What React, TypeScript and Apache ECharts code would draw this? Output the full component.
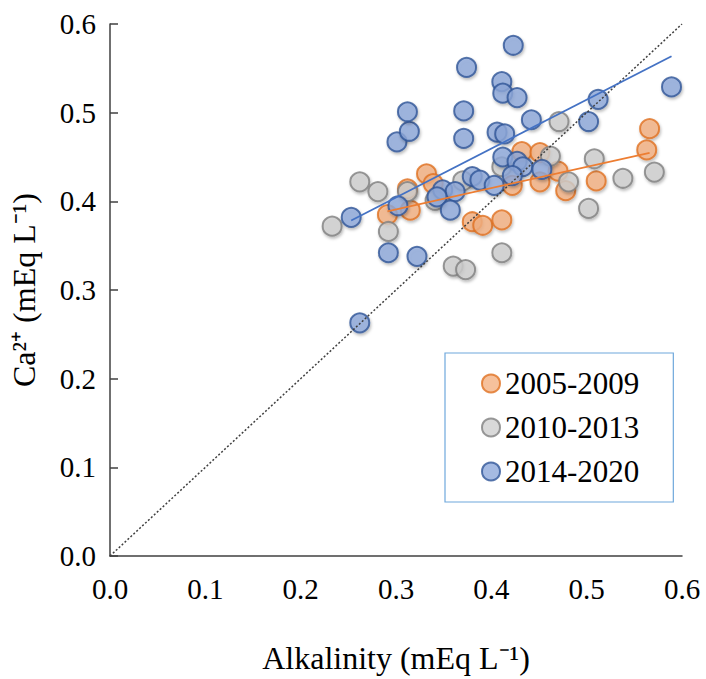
import React, { useEffect, useRef } from "react";
import * as echarts from "echarts";

// 2005-2009 (orange): [alkalinity, Ca2+]
const alk0509 = [0.291, 0.315, 0.312, 0.332, 0.339, 0.380, 0.391, 0.411, 0.422, 0.432, 0.451, 0.451, 0.470, 0.478, 0.510, 0.566, 0.563];
const ca0509 = [0.385, 0.390, 0.414, 0.431, 0.420, 0.377, 0.373, 0.379, 0.418, 0.456, 0.455, 0.422, 0.434, 0.412, 0.423, 0.482, 0.458];

// 2010-2013 (gray)
const alk1013 = [0.233, 0.262, 0.281, 0.312, 0.292, 0.360, 0.373, 0.411, 0.341, 0.370, 0.411, 0.462, 0.471, 0.481, 0.508, 0.502, 0.538, 0.571];
const ca1013 = [0.372, 0.422, 0.411, 0.411, 0.366, 0.327, 0.323, 0.342, 0.401, 0.423, 0.439, 0.451, 0.490, 0.422, 0.448, 0.392, 0.426, 0.433];

// 2014-2020 (blue)
const alk1420 = [0.262, 0.253, 0.292, 0.322, 0.302, 0.301, 0.314, 0.312, 0.371, 0.371, 0.374, 0.411, 0.412, 0.427, 0.423, 0.442, 0.512, 0.502, 0.589, 0.406, 0.414, 0.412, 0.427, 0.433, 0.453, 0.380, 0.388, 0.422, 0.403, 0.349, 0.362, 0.343, 0.357];
const ca1420 = [0.263, 0.382, 0.342, 0.338, 0.395, 0.467, 0.479, 0.501, 0.502, 0.471, 0.551, 0.535, 0.522, 0.517, 0.576, 0.492, 0.515, 0.490, 0.529, 0.478, 0.476, 0.450, 0.445, 0.439, 0.436, 0.428, 0.424, 0.429, 0.418, 0.413, 0.411, 0.405, 0.390];

const seriesNames = ["2005-2009", "2010-2013", "2014-2020"];

function pairs(xs: number[], ys: number[]) {
  return xs.map((x, i) => [x, ys[i]]);
}

function trend(xs: number[], ys: number[]) {
  const n = xs.length;
  const mx = xs.reduce((a, b) => a + b, 0) / n;
  const my = ys.reduce((a, b) => a + b, 0) / n;
  let sxy = 0, sxx = 0;
  for (let i = 0; i < n; i++) {
    sxy += (xs[i] - mx) * (ys[i] - my);
    sxx += (xs[i] - mx) * (xs[i] - mx);
  }
  const b = sxy / sxx;
  const a = my - b * mx;
  const x0 = Math.min(...xs);
  const x1 = Math.max(...xs);
  return [[x0, a + b * x0], [x1, a + b * x1]];
}

const FONT = "Liberation Serif";

export default function App() {
  const ref = useRef<HTMLDivElement>(null);
  useEffect(() => {
    if (!ref.current) return;
    const chart = echarts.init(ref.current, undefined, { renderer: "svg" });
    const shadow = {
      shadowBlur: 3,
      shadowColor: "rgba(0,0,0,0.3)",
      shadowOffsetX: 1,
      shadowOffsetY: 2,
    };
    const styles = [
      { color: "#F4B183", borderColor: "#E07020" },
      { color: "#CFCFCF", borderColor: "#7F7F7F" },
      { color: "#8EA9DB", borderColor: "#2F5597" },
    ];
    const data = [pairs(alk0509, ca0509), pairs(alk1013, ca1013), pairs(alk1420, ca1420)];
    const axisCommon = {
      type: "value" as const,
      min: 0,
      max: 0.6,
      interval: 0.1,
      splitLine: { show: false },
      axisLine: { show: true, lineStyle: { color: "#404040", width: 1.5 } },
      axisLabel: {
        color: "#000",
        fontFamily: FONT,
        fontSize: 29,
        formatter: (v: number) => v.toFixed(1),
      },
      nameTextStyle: { color: "#000", fontFamily: FONT, fontSize: 32 },
      nameLocation: "middle" as const,
    };
    chart.setOption({
      animation: false,
      backgroundColor: "#fff",
      grid: { left: 110, right: 24, top: 24, bottom: 119 },
      xAxis: {
        ...axisCommon,
        name: "Alkalinity (mEq L\u207B\u00B9)",
        nameGap: 86,
        axisTick: { show: false },
        axisLabel: { ...axisCommon.axisLabel, margin: 18 },
      },
      yAxis: {
        ...axisCommon,
        name: "Ca\u00B2\u207A (mEq L\u207B\u00B9)",
        nameGap: 70,
        axisTick: { show: true, inside: true, length: 8, lineStyle: { color: "#404040", width: 1.5 } },
        axisLabel: { ...axisCommon.axisLabel, margin: 14 },
      },
      legend: {
        data: seriesNames,
        orient: "vertical",
        left: 445,
        top: 353,
        padding: [15, 34, 15, 36],
        itemGap: 13,
        itemWidth: 18,
        itemHeight: 18,
        borderColor: "#6FA8DC",
        borderWidth: 1.2,
        textStyle: { fontFamily: FONT, fontSize: 31, color: "#000" },
      },
      series: [
        ...data.map((d, i) => ({
          name: seriesNames[i],
          type: "scatter",
          data: d,
          symbol: "circle",
          symbolSize: 19,
          z: 2 + i,
          itemStyle: { ...styles[i], borderWidth: 2, ...shadow },
        })),
        {
          type: "line",
          data: [[0, 0], [0.6, 0.6]],
          symbol: "none",
          z: 10,
          lineStyle: { color: "#404040", width: 1.5, type: [2, 2] },
        },
        {
          type: "line",
          data: trend(alk0509, ca0509),
          symbol: "none",
          z: 11,
          lineStyle: { color: "#ED7D31", width: 1.8 },
        },
        {
          type: "line",
          data: trend(alk1420, ca1420),
          symbol: "none",
          z: 11,
          lineStyle: { color: "#4472C4", width: 1.8 },
        },
      ],
    });
    return () => chart.dispose();
  }, []);
  return (
    <div
      ref={ref}
      style={{ position: "absolute", left: 0, top: 0, width: 706, height: 679 }}
    />
  );
}
